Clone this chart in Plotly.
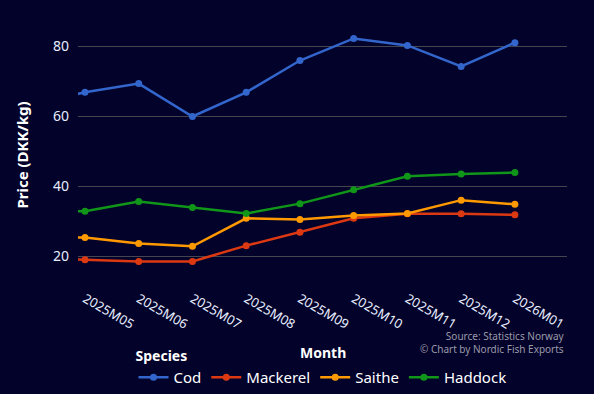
import plotly.graph_objects as go

months = ["2025M04", "2025M05", "2025M06", "2025M07", "2025M08", "2025M09",
          "2025M10", "2025M11", "2025M12", "2026M01"]
cod = [63.5, 66.9, 69.4, 60.0, 66.9, 76.0, 82.3, 80.3, 74.3, 81.1]
mackerel = [19.3, 19.1, 18.6, 18.6, 23.1, 26.9, 30.9, 32.2, 32.2, 31.9]
saithe = [25.8, 25.4, 23.7, 22.9, 30.9, 30.6, 31.7, 32.3, 36.1, 34.9]
haddock = [33.2, 32.9, 35.7, 34.0, 32.3, 35.1, 39.1, 42.9, 43.6, 44.0]

series = [("Cod", cod, "#3366cc"), ("Mackerel", mackerel, "#dc3912"),
          ("Saithe", saithe, "#ff9900"), ("Haddock", haddock, "#109618")]

xs = list(range(-1, len(months) - 1))
FONT = "Noto Sans"

fig = go.Figure()
for name, vals, col in series:
    fig.add_trace(go.Scatter(x=xs, y=vals, name=name, mode="lines+markers",
                             line=dict(color=col, width=2.5),
                             marker=dict(color=col, size=7)))

bg = "#03022a"
fig.update_layout(
    width=594, height=394,
    paper_bgcolor=bg, plot_bgcolor=bg,
    font=dict(family=FONT, color="#e8eeff", size=13),
    margin=dict(l=78, r=27, t=29, b=113, autoexpand=False),
    showlegend=True,
    legend=dict(orientation="h", x=0.5, xanchor="center", y=0.13, yanchor="top",
                yref="container",
                font=dict(size=15, color="#ffffff"),
                title=dict(text="<b>Species</b>", side="top", font=dict(size=14)),
                bgcolor="rgba(0,0,0,0)"),
    xaxis=dict(range=[-0.13, 8.97], tickvals=xs[1:], ticktext=months[1:],
               tickangle=30, showgrid=False, zeroline=False, showline=False,
               automargin=False, ticklabelstandoff=7,
               tickfont=dict(size=13, color="#e8eeff")),
    yaxis=dict(range=[13, 85], tickvals=[20, 40, 60, 80],
               gridcolor="#45454f", gridwidth=1, zeroline=False, showline=False,
               automargin=False,
               tickfont=dict(size=14, color="#e8eeff"), ticks="", ticklabelstandoff=8,
               title=dict(text="<b>Price (DKK/kg)</b>", font=dict(size=15, color="#ffffff"), standoff=20)),
)
fig.add_annotation(text="<b>Month</b>", xref="paper", yref="paper", x=0.5, y=-0.282,
                   xanchor="center", yanchor="middle", showarrow=False,
                   font=dict(size=14, color="#ffffff", family=FONT))
fig.add_annotation(text="Source: Statistics Norway<br>© Chart by Nordic Fish Exports",
                   xref="paper", yref="paper", x=1.0, y=-0.183, xanchor="right", yanchor="top",
                   showarrow=False, align="right",
                   font=dict(size=10, color="#9a9aa8", family=FONT))

fig.write_html("out.html", config={"displayModeBar": False},
               post_script="document.body.style.margin='0';document.body.style.background='#03022a';")
